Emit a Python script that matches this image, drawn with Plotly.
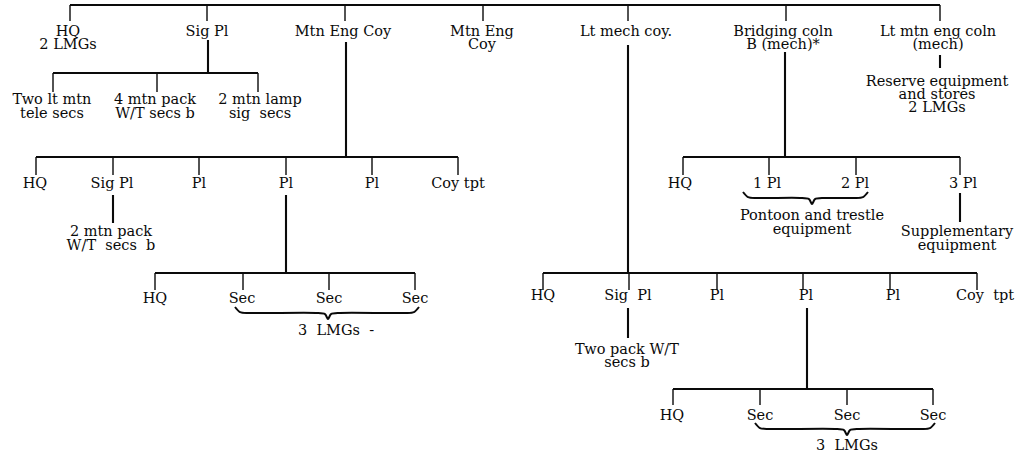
import plotly.graph_objects as go

# ---- chart data: unit names, top to bottom ----
top_units = ["HQ<br>2 LMGs", "Sig Pl", "Mtn Eng Coy", "Mtn Eng<br>Coy",
             "Lt mech coy.", "Bridging coln<br>B (mech)*", "Lt mtn eng coln<br>(mech)"]
sig_secs = ["Two lt mtn<br>tele secs", "4 mtn pack<br>W/T secs b", "2 mtn lamp<br>sig  secs"]
mtn_coy = ["HQ", "Sig Pl", "Pl", "Pl", "Pl", "Coy tpt"]
mtn_sig_pl = "2 mtn pack<br>W/T  secs  b"
mtn_pl = ["HQ", "Sec", "Sec", "Sec"]
mtn_pl_note = "3  LMGs  -"
mech_coy = ["HQ", "Sig  Pl", "Pl", "Pl", "Pl", "Coy  tpt"]
mech_sig_pl = "Two pack W/T<br>secs b"
mech_pl = ["HQ", "Sec", "Sec", "Sec"]
mech_pl_note = "3  LMGs"
bridging = ["HQ", "1 Pl", "2 Pl", "3 Pl"]
bridging_note = "Pontoon and trestle<br>equipment"
bridging_3pl = "Supplementary<br>equipment"
reserve = "Reserve equipment<br>and stores<br>2 LMGs"

# ---- layout (page pixels, y grows downward) ----
INK = "#0a0a0a"
FONT = dict(family="DejaVu Serif", size=14.5, color=INK)
PAGE_W, PAGE_H = 1021, 454

bars = []    # (x0, y0, x1, y1)
ticks = []
texts = []   # (x, y, line)
braces = []  # (x0, x1, xm, ytop)


def add_label(x, y, lab, lh=13.5):
    for i, line in enumerate(lab.split("<br>")):
        texts.append((x, y + i * lh, line))


def add_branch(stem_x, stem_top, bar_y, tick_xs, tick_bot):
    if stem_top is not None:
        bars.append((stem_x, stem_top, stem_x, bar_y))
    xs = list(tick_xs) + ([stem_x] if stem_x is not None else [])
    bars.append((min(xs), bar_y, max(xs), bar_y))
    for x in tick_xs:
        ticks.append((x, bar_y, x, tick_bot))


def add_stem(x, y0, y1):
    bars.append((x, y0, x, y1))


# top row
add_branch(None, None, 5, [70, 207, 345, 483, 628, 786, 940], 21)
for x, lab in zip([68, 207, 343, 482, 626, 783, 938], top_units):
    add_label(x, 32, lab, 13)

# Sig Pl
add_branch(208, 40, 73, [53, 157, 258], 92)
for x, lab in zip([52, 155, 260], sig_secs):
    add_label(x, 100, lab, 14)

# Mtn Eng Coy
add_branch(346, 42, 157, [36, 113, 199, 286, 372, 458], 175)
for x, lab in zip([35, 112, 199, 286, 372, 458], mtn_coy):
    add_label(x, 184, lab)
add_stem(113, 195, 223)
add_label(111, 232, mtn_sig_pl, 14.5)
add_branch(286, 195, 273, [155, 243, 329, 415], 290)
for x, lab in zip([155, 242, 329, 415], mtn_pl):
    add_label(x, 299, lab)
braces.append((235, 419, 328, 307))
add_label(336, 331, mtn_pl_note)

# Lt mech coy
add_branch(628, 45, 273, [543, 629, 717, 803, 890, 977], 290)
for x, lab in zip([543, 628, 717, 806, 893, 985], mech_coy):
    add_label(x, 296, lab)
add_stem(628, 308, 338)
add_label(627, 350, mech_sig_pl)
add_branch(807, 308, 389, [673, 760, 847, 933], 405)
for x, lab in zip([672, 760, 847, 933], mech_pl):
    add_label(x, 416, lab)
braces.append((755, 935, 847, 423))
add_label(847, 446, mech_pl_note)

# Bridging coln
add_branch(785, 52, 157, [683, 769, 856, 960], 175)
for x, lab in zip([680, 767, 855, 963], bridging):
    add_label(x, 184, lab)
braces.append((743, 868, 812, 192))
add_label(812, 216, bridging_note, 14.5)
add_stem(960, 193, 222)
add_label(957, 232, bridging_3pl, 14)

# Lt mtn eng coln
add_stem(940, 55, 68)
add_label(937, 82, reserve, 13)


def seg_xy(segs):
    xs, ys = [], []
    for x0, y0, x1, y1 in segs:
        xs += [x0, x1, None]
        ys += [y0, y1, None]
    return xs, ys


def brace_xy(x0, x1, xm, y, d=12):
    xs = [x0, x0 + 5, x0 + 14, xm - 12, xm - 3, xm, xm + 3, xm + 12, x1 - 14, x1 - 5, x1]
    ys = [y, y + d * 0.42, y + d * 0.5, y + d * 0.5, y + d * 0.6, y + d,
          y + d * 0.6, y + d * 0.5, y + d * 0.5, y + d * 0.42, y]
    return xs, ys


fig = go.Figure()

bx, by = seg_xy(bars)
fig.add_trace(go.Scatter(x=bx, y=by, mode="lines", line=dict(color=INK, width=2.1),
                         hoverinfo="skip", showlegend=False))
tx, ty = seg_xy(ticks)
fig.add_trace(go.Scatter(x=tx, y=ty, mode="lines", line=dict(color=INK, width=1.4),
                         hoverinfo="skip", showlegend=False))
for b in braces:
    cx, cy = brace_xy(*b)
    fig.add_trace(go.Scatter(x=cx, y=cy, mode="lines",
                             line=dict(color=INK, width=2, shape="spline", smoothing=0.8),
                             hoverinfo="skip", showlegend=False))

fig.add_trace(go.Scatter(
    x=[t[0] for t in texts], y=[t[1] for t in texts], text=[t[2] for t in texts],
    mode="text", textposition="middle center", textfont=FONT,
    hoverinfo="skip", showlegend=False))

fig.update_layout(
    width=PAGE_W, height=PAGE_H,
    margin=dict(l=0, r=0, t=0, b=0),
    paper_bgcolor="white", plot_bgcolor="white",
    xaxis=dict(range=[0, PAGE_W], visible=False, fixedrange=True),
    yaxis=dict(range=[PAGE_H, 0], visible=False, fixedrange=True),
)

# drop the browser's default 8px body margin so the figure fills the window
fig.write_html("out.html", config={"displayModeBar": False},
               post_script="document.body.style.margin='0';")
